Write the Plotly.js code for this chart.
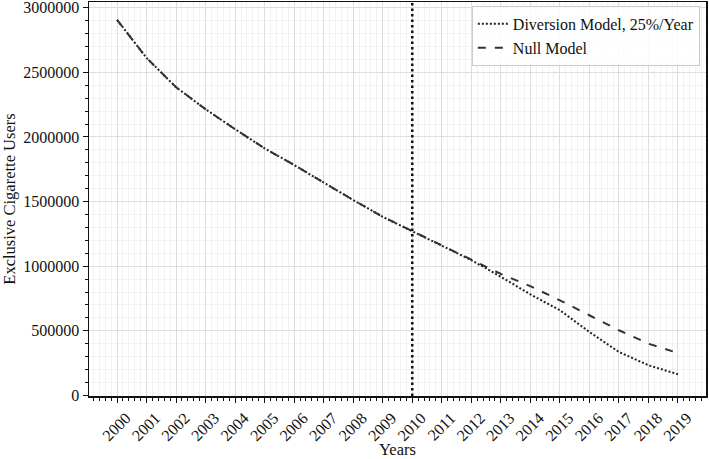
<!DOCTYPE html>
<html>
<head>
<meta charset="utf-8">
<script src="https://cdn.plot.ly/plotly-3.0.1.min.js"></script>
<style>
  html, body { margin: 0; padding: 0; background: #fff; }
  #chart { width: 709px; height: 459px; }
</style>
</head>
<body>
<div id="chart"></div>
<script>
// values
const years = [2000, 2001, 2002, 2003, 2004, 2005, 2006, 2007, 2008, 2009,
               2010, 2011, 2012, 2013, 2014, 2015, 2016, 2017, 2018, 2019];

const diversionUsers = [2907000, 2612000, 2385000, 2215000, 2060000, 1912000, 1783000, 1646000, 1512000, 1382000,
                        1270000, 1163000, 1047000, 918000, 782000, 659000, 491000, 336000, 233000, 163000];

const nullUsers = [2907000, 2612000, 2385000, 2215000, 2060000, 1912000, 1783000, 1646000, 1512000, 1382000,
                   1270000, 1163000, 1050000, 940000, 845000, 736000, 620000, 504000, 400000, 328000];

const policyYear = 2010;

const font = 'Liberation Serif, Times New Roman, serif';

const traces = [
  {
    type: 'scatter',
    mode: 'lines',
    x: years,
    y: diversionUsers,
    name: 'Diversion Model, 25%/Year',
    line: { color: '#222', width: 2, dash: '2px,2px' }
  },
  {
    type: 'scatter',
    mode: 'lines',
    x: years,
    y: nullUsers,
    name: 'Null Model',
    line: { color: '#333', width: 2, dash: '8px,9px' }
  }
];

const axisBase = {
  showline: true,
  linecolor: '#111',
  linewidth: 1.5,
  mirror: true,
  ticks: 'outside',
  ticklen: 5,
  tickwidth: 1,
  tickcolor: '#111',
  showgrid: true,
  gridcolor: '#dedede',
  gridwidth: 1,
  zeroline: false,
  ticklabeloverflow: 'allow',
  tickfont: { family: font, size: 16, color: '#111' }
};

const layout = {
  width: 709,
  height: 459,
  margin: { l: 89, r: 3, t: 2, b: 63 },
  paper_bgcolor: '#fff',
  plot_bgcolor: '#fff',
  font: { family: font, color: '#111' },
  showlegend: true,
  legend: {
    x: 0.99,
    y: 0.99,
    xanchor: 'right',
    yanchor: 'top',
    bgcolor: 'rgba(255,255,255,0.85)',
    bordercolor: '#cccccc',
    borderwidth: 1,
    font: { family: font, size: 16, color: '#111' },
    itemwidth: 30,
    tracegroupgap: 2
  },
  xaxis: Object.assign({}, axisBase, {
    range: [1999.05, 2019.95],
    tickmode: 'linear',
    tick0: 2000,
    dtick: 1,
    tickangle: -45,
    ticklabelshift: 9,
    minor: {
      dtick: 0.2,
      tick0: 2000,
      ticks: 'outside',
      ticklen: 3,
      tickcolor: '#111',
      showgrid: true,
      gridcolor: '#f2f2f2',
      gridwidth: 1
    },
    title: { text: 'Years', font: { family: font, size: 16.5, color: '#111' }, standoff: 2 }
  }),
  yaxis: Object.assign({}, axisBase, {
    range: [-5000, 3045000],
    tickmode: 'linear',
    tick0: 0,
    dtick: 500000,
    tickformat: 'd',
    minor: {
      dtick: 100000,
      tick0: 0,
      ticks: 'outside',
      ticklen: 3,
      tickcolor: '#111',
      showgrid: true,
      gridcolor: '#f2f2f2',
      gridwidth: 1
    },
    title: { text: 'Exclusive Cigarette Users', font: { family: font, size: 16.5, color: '#111' }, standoff: 4 }
  }),
  shapes: [
    {
      type: 'line',
      xref: 'x',
      yref: 'paper',
      x0: policyYear,
      x1: policyYear,
      y0: 0,
      y1: 1,
      line: { color: '#111', width: 2.5, dash: '2.5px,3px' }
    }
  ]
};

Plotly.newPlot('chart', traces, layout, { displayModeBar: false, staticPlot: true });
</script>
</body>
</html>
